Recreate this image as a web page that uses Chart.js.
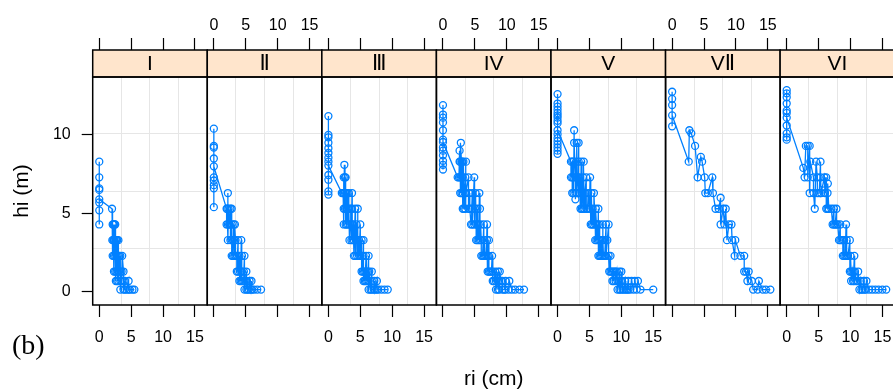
<!DOCTYPE html>
<html>
<head>
<meta charset="utf-8">
<script src="https://cdn.jsdelivr.net/npm/chart.js@4/dist/chart.umd.min.js"></script>
<style>
  html, body { margin: 0; padding: 0; overflow: hidden; background: #fff; }
  #wrap { position: relative; width: 900px; height: 392px; }
</style>
</head>
<body>
<div id="wrap"><canvas id="c" width="900" height="392"></canvas></div>
<script>
// Stem profiles by site: radius ri (cm) measured at height hi (m).
const panelNames = ['I', 'Ⅱ', 'Ⅲ', 'IV', 'V', 'VⅡ', 'VI'];

// Tree tops (ri = 0), section heights and radii at each section height.
const topsI = [8.3, 7.3, 6.6, 6.5, 5.7, 5.2, 4.3, 5.9];
const secHiI = [5.3, 4.3, 3.3, 2.3, 1.3, 0.7, 0.15];
const secRiI = [
  [2.0],
  [2.1, 2.3, 2.5, 2.2, 2.4],
  [2.05, 2.3, 2.6, 3.0, 2.4, 2.8, 2.2, 2.7],
  [2.1, 2.5, 2.9, 3.3, 3.6, 2.7, 2.3, 3.1],
  [2.3, 2.7, 3.1, 3.5, 3.8, 2.9, 2.5, 3.3],
  [2.6, 3.0, 3.5, 4.0, 4.6, 3.3, 2.8, 3.8],
  [3.3, 3.8, 4.3, 4.8, 5.2, 5.5, 4.0, 4.6]
];

const topsII = [10.4, 9.3, 9.2, 8.5, 7.3, 6.8, 6.6, 5.4, 7.1, 8.0];
const secHiII = [6.3, 5.3, 4.3, 3.3, 2.3, 1.3, 0.7, 0.15];
const secRiII = [
  [2.2],
  [2.0, 2.3, 2.6, 2.8, 2.1],
  [2.2, 2.5, 2.8, 3.1, 3.3, 2.4, 2.0],
  [2.2, 2.6, 3.0, 3.4, 3.8, 4.3, 2.8, 3.2],
  [2.8, 3.2, 3.6, 4.0, 4.4, 4.8, 3.4, 3.0],
  [3.8, 4.1, 4.4, 4.7, 5.1, 4.3, 3.6],
  [4.0, 4.4, 4.8, 5.2, 5.6, 5.9, 4.6, 4.2],
  [4.8, 5.3, 5.8, 6.3, 6.8, 7.4, 5.5, 6.0, 5.1]
];

const topsIII = [11.2, 10.0, 9.85, 9.5, 9.15, 8.85, 8.55, 8.3, 7.45, 7.15, 6.4, 6.2, 8.05];
const secHiIII = [8.1, 7.3, 6.3, 5.3, 4.3, 3.3, 2.3, 1.3, 0.7, 0.15];
const secRiIII = [
  [2.5],
  [2.4, 2.6, 2.7],
  [2.1, 2.4, 2.8, 3.2, 3.7, 2.6, 2.3, 3.0],
  [2.4, 2.8, 3.2, 3.7, 4.2, 4.6, 3.0, 3.5, 2.6],
  [2.4, 2.9, 3.4, 3.9, 4.4, 5.0, 3.1, 3.7, 2.7],
  [3.3, 3.8, 4.3, 4.8, 5.2, 5.5, 4.0, 4.6, 3.6],
  [4.0, 4.5, 5.0, 5.5, 5.9, 6.3, 4.8, 5.3, 4.2],
  [5.2, 5.6, 6.0, 6.4, 6.8, 5.8, 5.4, 6.2],
  [5.5, 5.9, 6.3, 6.8, 7.2, 7.6, 6.1, 5.7],
  [6.3, 6.8, 7.3, 7.8, 8.3, 8.8, 9.3, 7.1, 7.6, 6.6]
];

const topsIV = [11.9, 11.3, 11.1, 10.8, 10.3, 9.7, 9.2, 9.0, 8.7, 8.35, 8.1, 7.8, 9.55];
const secHiIV = [9.5, 9.0, 8.3, 7.3, 6.3, 5.3, 4.3, 3.3, 2.3, 1.3, 0.7, 0.15];
const secRiIV = [
  [2.8],
  [2.6],
  [2.6, 2.9, 3.2, 3.6, 3.0, 2.7],
  [2.3, 2.7, 3.1, 3.5, 4.0, 4.9, 2.9, 2.5],
  [2.7, 3.1, 3.6, 4.1, 4.6, 5.1, 5.7, 3.4, 2.9],
  [3.1, 3.5, 4.0, 4.5, 5.0, 5.4, 5.8, 4.2, 3.3],
  [4.4, 4.9, 5.4, 5.9, 6.4, 6.9, 5.2, 4.6, 5.6],
  [5.2, 5.6, 6.0, 6.5, 6.9, 7.2, 5.8, 5.4],
  [6.0, 6.4, 6.8, 7.2, 7.7, 6.6, 6.2, 7.0],
  [7.0, 7.4, 7.8, 8.2, 8.6, 8.9, 7.6, 7.2],
  [7.8, 8.3, 8.8, 9.3, 9.8, 10.4, 8.6, 9.1, 8.0],
  [8.3, 8.8, 9.3, 9.8, 10.3, 10.8, 11.3, 12.0, 12.7, 9.6, 8.6]
];

const topsV = [12.6, 12.0, 11.8, 11.6, 11.4, 11.25, 11.1, 10.9, 10.75, 10.05, 9.8, 9.6, 9.4, 9.2, 9.0, 8.8, 10.3];
const secHiV = [10.3, 9.5, 8.3, 7.3, 6.3, 5.9, 5.3, 4.3, 3.3, 2.3, 1.3, 0.7, 0.15];
const secRiV = [
  [2.6],
  [2.6, 3.0, 3.3],
  [2.1, 2.5, 2.9, 3.3, 3.7, 4.1, 2.3],
  [2.1, 2.5, 3.0, 3.5, 4.0, 4.5, 5.1, 2.8, 3.2, 2.3],
  [2.3, 2.8, 3.3, 3.8, 4.3, 4.8, 5.3, 5.7, 3.0, 3.5, 2.5],
  [2.8],
  [3.6, 4.0, 4.5, 5.0, 5.5, 6.0, 6.4, 4.2, 3.8, 4.7],
  [5.2, 5.6, 6.1, 6.6, 7.1, 7.6, 8.0, 5.9, 5.4, 6.3],
  [5.9, 6.3, 6.7, 7.1, 7.5, 7.8, 6.1, 6.5, 6.9],
  [6.4, 6.8, 7.2, 7.6, 8.0, 8.3, 7.0, 6.6, 7.4],
  [8.1, 8.5, 8.9, 9.3, 9.7, 10.0, 8.3, 8.7, 9.1],
  [8.6, 9.1, 9.6, 10.1, 10.6, 11.1, 11.6, 12.1, 12.6, 9.4, 8.8, 9.9],
  [9.4, 9.9, 10.4, 10.9, 11.4, 11.9, 12.4, 13.0, 15.0, 10.2, 11.1, 9.7, 10.7]
];

const topsVII = [12.75, 12.3, 11.9, 10.55, 11.25];
const secHiVII = [10.3, 10.1, 9.3, 8.6, 8.3, 7.3, 6.3, 6.0, 5.3, 4.3, 3.3, 2.3, 1.3, 0.7, 0.15];
const secRiVII = [
  [2.7],
  [3.0],
  [3.6],
  [4.5],
  [2.6, 4.7],
  [4.0, 5.1, 6.3],
  [5.2, 5.6, 6.4],
  [7.6],
  [6.8, 7.3, 8.0, 8.4],
  [7.6, 8.2, 8.9, 9.3],
  [8.6, 9.4, 9.9],
  [9.8, 10.7, 11.3],
  [11.3, 11.6, 12.0],
  [11.8, 12.5, 13.6],
  [12.7, 13.4, 14.2, 14.7, 15.4]
];

const topsVI = [12.85, 12.65, 12.4, 12.0, 11.55, 11.4, 10.6, 10.1, 9.85, 9.7, 11.1];
const secHiVI = [9.3, 8.3, 7.9, 7.3, 6.9, 6.3, 5.3, 4.3, 3.3, 2.3, 1.3, 0.7, 0.15];
const secRiVI = [
  [3.0, 3.3, 3.6],
  [3.7, 4.6, 5.3],
  [2.6],
  [2.8, 3.3, 4.2, 4.8, 5.3, 5.9, 6.2],
  [5.7, 6.45],
  [3.6, 4.2, 4.8, 5.4, 6.0, 6.4, 5.1],
  [4.4, 6.2, 6.6, 7.0, 7.4, 7.8, 6.4],
  [7.2, 7.6, 8.0, 8.4, 9.3, 7.8, 7.4],
  [8.2, 8.6, 9.0, 9.4, 9.9, 8.8, 8.4],
  [8.8, 9.2, 9.6, 10.0, 10.6, 9.4, 9.0],
  [9.9, 10.3, 10.7, 11.2, 10.5, 10.1],
  [10.1, 10.6, 11.1, 11.6, 12.1, 12.5, 10.9, 10.4],
  [11.4, 11.9, 12.4, 12.9, 13.4, 13.9, 14.4, 15.0, 15.6, 12.2, 11.7]
];

const panelTops = [topsI, topsII, topsIII, topsIV, topsV, topsVII, topsVI];
const panelSecHi = [secHiI, secHiII, secHiIII, secHiIV, secHiV, secHiVII, secHiVI];
const panelSecRi = [secRiI, secRiII, secRiIII, secRiIV, secRiV, secRiVII, secRiVI];

// Axis ticks
const xTickValues = [0, 5, 10, 15];
const yTickValues = [0, 5, 10];

// Shared panel limits
const X_MIN = -1.03, X_MAX = 16.93;
const Y_MIN = -0.83, Y_MAX = 13.69;

const BLUE = '#0080ff';
const STRIP_BG = '#ffe5cc';
const GRID = '#e6e6e6';
const SANS = '"Liberation Sans", Arial, Helvetica, sans-serif';

// Points of one panel, joined in order of increasing radius.
function panelPoints(tops, secHi, secRi) {
  const pts = tops.map(h => ({ x: 0, y: h }));
  secHi.forEach((h, i) => secRi[i].forEach(r => pts.push({ x: r, y: h })));
  return pts.sort((a, b) => a.x - b.x);
}

// Reference grid: three equally spaced lines inside each panel.
function innerLines(min, max) {
  return [1, 2, 3].map(i => min + (max - min) * i / 4);
}
const xGridValues = innerLines(X_MIN, X_MAX);
const yGridValues = innerLines(Y_MIN, Y_MAX);
const isMajor = (list, ctx) => !!(ctx && ctx.tick && list.includes(ctx.tick.value));

const scales = {};
const datasets = [];

panelNames.forEach((name, k) => {
  // bottom axis: tick marks + labels on alternate panels, inner grid lines
  scales['x' + k] = {
    type: 'linear',
    position: 'bottom',
    stack: 'bottom',
    stackWeight: 1,
    min: X_MIN,
    max: X_MAX,
    afterBuildTicks: s => {
      s.ticks = [...xTickValues, ...xGridValues].sort((a, b) => a - b).map(v => ({ value: v }));
    },
    afterFit: s => { s.height = 87; s.paddingLeft = 0; s.paddingRight = 0; },
    border: { display: false },
    grid: {
      drawOnChartArea: true,
      drawTicks: true,
      tickLength: 12,
      lineWidth: 1,
      tickWidth: 1.2,
      color: ctx => isMajor(xTickValues, ctx) ? 'rgba(0,0,0,0)' : GRID,
      tickColor: ctx => isMajor(xTickValues, ctx) ? '#000' : 'rgba(0,0,0,0)'
    },
    ticks: {
      display: k % 2 === 0,
      autoSkip: false,
      maxRotation: 0,
      padding: 11,
      color: '#000',
      font: { family: SANS, size: 16 },
      callback: v => xTickValues.includes(v) ? String(v) : ''
    },
    title: k === 3 ? {
      display: true,
      text: 'ri (cm)',
      color: '#000',
      font: { family: SANS, size: 21 },
      padding: { top: 0, bottom: 0 }
    } : { display: false }
  };

  // top axis: tick marks on every panel, labels on the others
  scales['t' + k] = {
    type: 'linear',
    position: 'top',
    stack: 'top',
    stackWeight: 1,
    min: X_MIN,
    max: X_MAX,
    afterBuildTicks: s => { s.ticks = xTickValues.map(v => ({ value: v })); },
    afterFit: s => { s.height = 77; s.paddingLeft = 0; s.paddingRight = 0; },
    border: { display: false },
    grid: {
      drawOnChartArea: false,
      drawTicks: true,
      tickLength: 39,
      tickWidth: 1.2,
      tickColor: '#000'
    },
    ticks: {
      display: k % 2 === 1,
      autoSkip: false,
      maxRotation: 0,
      padding: 3,
      color: '#000',
      font: { family: SANS, size: 16 }
    }
  };

  datasets.push({
    label: name,
    data: panelPoints(panelTops[k], panelSecHi[k], panelSecRi[k]),
    xAxisID: 'x' + k,
    yAxisID: 'y',
    showLine: true,
    borderColor: BLUE,
    borderWidth: 1.3,
    backgroundColor: 'rgba(0,0,0,0)',
    pointStyle: 'circle',
    pointRadius: 3.5,
    pointBorderWidth: 1.3,
    pointBorderColor: BLUE,
    pointBackgroundColor: 'rgba(0,0,0,0)',
    tension: 0
  });
});

scales.y = {
  type: 'linear',
  position: 'left',
  min: Y_MIN,
  max: Y_MAX,
  afterBuildTicks: s => {
    s.ticks = [...yTickValues, ...yGridValues].sort((a, b) => a - b).map(v => ({ value: v }));
  },
  afterFit: s => { s.width = 92.7; s.paddingTop = 0; s.paddingBottom = 0; },
  border: { display: false },
  grid: {
    drawOnChartArea: true,
    drawTicks: true,
    tickLength: 11,
    lineWidth: 1,
    tickWidth: 1.2,
    color: ctx => isMajor(yTickValues, ctx) ? 'rgba(0,0,0,0)' : GRID,
    tickColor: ctx => isMajor(yTickValues, ctx) ? '#000' : 'rgba(0,0,0,0)'
  },
  ticks: {
    autoSkip: false,
    padding: 11,
    color: '#000',
    font: { family: SANS, size: 16 },
    callback: v => yTickValues.includes(v) ? String(v) : ''
  },
  title: {
    display: true,
    text: 'hi (m)',
    color: '#000',
    font: { family: SANS, size: 21 },
    padding: { top: 9.4, bottom: 0 }
  }
};

// Panel frames, strips with site names, and the figure tag.
const panelFrames = {
  id: 'panelFrames',
  afterDatasetsDraw(chart) {
    const { ctx, chartArea: a } = chart;
    const stripH = 27;
    ctx.save();
    ctx.lineWidth = 1.5;
    ctx.strokeStyle = '#000';
    panelNames.forEach((name, k) => {
      const s = chart.scales['x' + k];
      ctx.fillStyle = STRIP_BG;
      ctx.fillRect(s.left, a.top - stripH, s.width, stripH);
      ctx.strokeRect(s.left, a.top - stripH, s.width, stripH);
      ctx.strokeRect(s.left, a.top, s.width, a.bottom - a.top);
      ctx.fillStyle = '#000';
      ctx.font = '21px "Liberation Sans", "DejaVu Sans", sans-serif';
      ctx.textAlign = 'center';
      ctx.textBaseline = 'middle';
      ctx.fillText(name, s.left + s.width / 2, a.top - stripH / 2 + 1);
    });
    ctx.font = '28px "Liberation Serif", "Times New Roman", serif';
    ctx.textAlign = 'left';
    ctx.textBaseline = 'middle';
    ctx.fillText('(b)', 12, 347);
    ctx.restore();
  }
};

new Chart(document.getElementById('c'), {
  type: 'scatter',
  data: { datasets },
  options: {
    responsive: false,
    animation: false,
    devicePixelRatio: 1,
    layout: { padding: { left: 0, top: 0, right: 5.2, bottom: 0 } },
    plugins: { legend: { display: false }, tooltip: { enabled: false } },
    scales
  },
  plugins: [panelFrames]
});
</script>
</body>
</html>
